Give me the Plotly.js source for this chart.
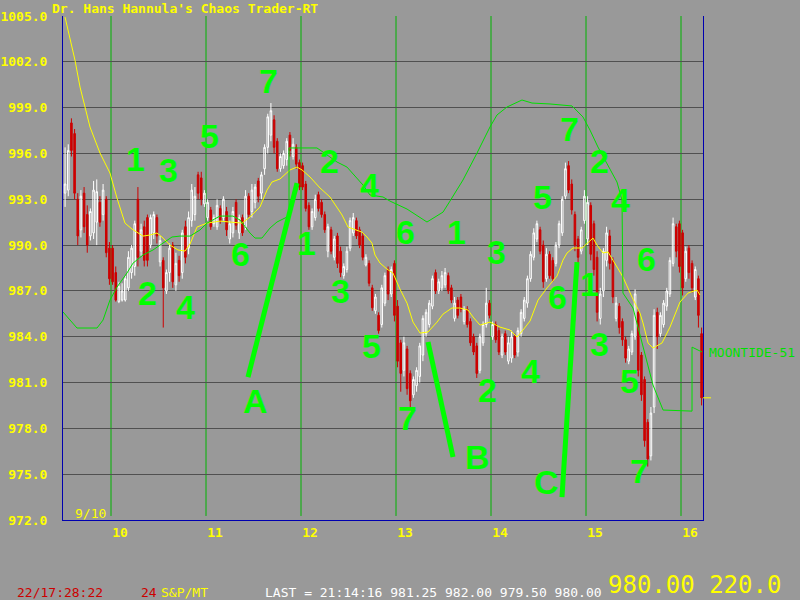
<!DOCTYPE html>
<html><head><meta charset="utf-8">
<script src="https://cdn.plot.ly/plotly-3.0.1.min.js"></script>
<style>html,body{margin:0;padding:0;background:#999999;}#chart{width:800px;height:600px;}</style>
</head><body><div id="chart"></div>
<script>
// ---- time structure: session start (day units) and bars per session ----
const sessionStart = [9.5, 10, 11, 12, 13, 14, 15, 16];
const sessionBars  = [15, 30, 30, 30, 30, 30, 30, 7];
const barsPerDay = 30;

// ---- price bars (open/high/low/close) ----
const openP = [
 993.4,993.6,998.0,997.3,993.0,991.0,993.4,992.0,990.6,990.8,991.5,992.8,992.0,993.0,989.8,
 989.8,988.2,986.3,986.4,986.4,987.2,988.2,988.6,993.0,989.6,991.2,991.8,990.0,990.8,991.8,988.9,989.0,987.0,988.2,990.0,987.4,989.0,988.2,991.2,989.8,991.6,992.0,994.6,994.4,992.7,
 991.8,992.3,991.4,991.2,992.4,991.8,992.2,990.4,990.8,992.8,990.8,991.8,991.2,993.2,992.2,992.8,994.2,993.4,995.0,996.4,997.2,998.2,996.8,995.0,995.2,995.6,997.2,995.8,996.4,995.4,
 995.2,994.0,992.6,991.2,991.8,993.3,992.8,992.0,989.6,991.0,989.2,990.6,989.6,988.0,988.4,989.8,990.8,991.6,991.0,990.6,988.7,988.8,987.2,985.7,985.4,984.8,986.2,988.4,986.8,988.8,
 986.0,983.6,981.8,983.2,981.6,980.2,980.8,981.4,982.8,984.2,984.8,986.0,988.2,987.0,987.2,987.4,988.0,987.2,985.2,986.4,986.6,985.0,985.8,985.0,984.0,983.4,981.8,983.6,984.8,986.2,
 984.0,984.8,984.4,982.8,984.2,982.4,982.6,984.0,983.0,984.2,985.2,986.2,987.8,989.2,990.4,991.0,990.0,987.8,989.4,989.0,988.8,990.0,990.8,993.2,995.2,994.0,992.0,990.4,989.6,991.6,
 990.4,992.6,991.4,989.2,985.2,987.0,989.0,990.6,989.0,985.2,986.0,985.0,983.8,982.4,983.0,984.0,985.6,982.8,981.2,978.4,976.2,979.4,985.6,984.2,984.8,986.0,986.8,988.8,991.2,991.4,
 990.8,987.8,989.8,988.8,986.6,987.8,984.2];
const highP = [
 996.4,996.6,998.3,997.6,993.4,993.6,993.8,992.6,992.4,994.2,994.3,993.2,994.0,993.2,990.2,
 990.0,988.6,987.6,987.5,988.0,989.6,990.0,991.6,993.8,991.4,991.6,992.0,992.0,992.2,992.0,990.6,989.2,988.4,990.1,990.2,989.5,989.3,991.0,991.6,992.2,994.0,993.8,994.8,994.8,993.6,
 993.0,992.5,992.0,993.0,992.6,993.2,992.5,991.6,992.5,993.0,992.0,992.0,993.6,993.4,994.0,994.0,994.4,994.8,996.6,998.6,999.3,998.5,997.0,996.0,996.2,997.0,997.4,997.0,996.6,995.6,
 995.4,994.2,992.8,992.4,993.3,993.5,993.0,992.2,991.4,991.2,990.6,990.8,989.9,988.8,989.9,991.8,992.1,991.8,991.2,990.8,989.4,989.0,987.4,986.8,985.6,987.4,988.2,988.6,988.6,989.0,
 986.4,983.8,984.0,983.4,981.8,981.4,982.0,983.6,985.4,985.8,986.4,988.0,988.4,987.8,988.3,988.5,988.2,987.4,986.6,986.6,986.8,986.0,986.0,985.2,984.2,983.6,984.2,985.0,987.2,986.4,
 985.0,985.0,984.6,984.2,984.4,984.0,984.4,984.2,984.6,985.8,986.6,988.0,989.6,991.1,991.6,991.2,990.3,989.8,989.6,989.2,990.2,991.6,993.2,995.4,995.5,994.3,992.2,990.6,991.2,993.6,
 993.2,992.8,991.6,989.6,987.2,989.8,991.2,991.0,989.2,986.6,986.2,985.2,984.0,983.4,984.4,987.1,985.8,983.0,981.4,978.6,979.4,985.8,985.9,985.6,986.4,987.2,989.2,991.8,991.4,991.6,
 991.0,989.9,990.0,989.0,988.6,988.0,984.6];
const lowP = [
 992.5,993.2,995.8,993.0,990.0,990.5,990.8,989.5,990.3,990.4,990.0,991.2,991.6,989.2,987.4,
 987.4,986.3,986.2,986.3,986.3,987.0,987.8,988.0,988.6,989.3,988.6,988.6,989.8,990.4,990.1,988.6,984.6,986.8,987.6,987.2,987.0,987.6,987.8,988.8,989.4,991.2,991.6,993.0,992.6,992.5,
 991.6,991.0,991.2,991.0,991.4,991.6,990.6,990.1,990.5,991.0,990.4,990.6,991.0,991.8,991.8,992.4,992.8,993.0,994.6,996.0,996.8,996.0,994.8,994.8,995.0,995.2,995.8,995.6,995.0,993.6,
 993.6,992.2,991.0,991.0,991.6,992.2,991.8,990.8,989.2,989.4,989.0,988.5,987.9,987.8,988.2,989.6,990.6,990.4,989.8,989.0,988.6,987.3,985.7,985.5,984.2,984.6,986.0,986.4,986.6,985.0,
 982.0,980.4,981.4,980.2,979.4,980.0,980.4,981.0,982.4,984.0,984.6,985.8,986.8,986.8,987.0,987.2,986.8,986.2,985.0,985.2,985.6,984.8,984.6,983.4,982.8,981.3,981.6,983.4,984.6,985.2,
 983.8,983.6,982.8,982.6,982.8,982.2,982.3,982.6,982.7,984.0,985.0,985.9,987.6,989.0,990.2,989.4,987.2,987.6,987.8,987.6,988.6,989.8,990.6,993.0,993.4,992.0,989.6,988.8,989.4,991.4,
 990.0,989.0,988.0,985.0,984.8,986.6,988.6,988.4,986.2,985.0,984.2,983.4,982.3,982.2,982.8,983.8,981.4,979.8,976.8,975.5,975.9,979.0,983.2,984.0,984.6,985.7,986.6,988.6,989.2,988.2,
 986.7,987.6,987.8,986.9,986.4,984.6,979.5];
const closeP = [
 994.0,996.2,996.2,993.4,990.6,993.2,991.2,990.0,992.2,993.6,993.5,991.5,993.6,989.5,987.8,
 987.6,986.4,987.3,987.0,987.8,989.2,989.8,991.4,989.2,991.0,989.0,989.0,991.8,992.0,990.6,990.3,987.2,988.2,989.8,987.6,988.8,988.0,990.8,989.2,991.8,993.6,993.2,993.4,993.0,993.4,
 992.8,991.2,991.8,992.6,991.6,993.0,991.0,991.4,992.2,991.3,991.8,990.8,993.2,992.0,993.6,993.8,993.2,994.6,996.4,998.4,998.8,996.4,995.0,995.8,996.0,996.8,996.2,996.6,995.3,993.8,
 993.8,992.4,991.2,992.2,993.0,992.4,992.0,991.0,991.2,989.6,990.4,988.8,988.2,988.6,989.6,991.6,991.8,990.6,990.0,989.2,989.2,987.5,985.9,986.6,984.4,987.2,988.0,986.8,988.4,985.4,
 982.4,981.6,983.6,980.6,979.8,981.2,981.8,983.4,985.2,985.6,986.2,987.8,987.0,987.6,988.0,988.2,987.0,986.4,986.2,985.4,985.8,985.8,984.8,983.6,983.0,981.6,984.0,984.8,986.2,985.4,
 984.8,983.8,983.0,984.0,983.0,983.6,984.0,982.8,984.4,985.6,986.4,987.8,989.4,990.8,991.4,989.6,987.6,989.4,988.0,987.8,990.0,991.4,993.0,995.0,993.6,992.3,990.0,989.2,991.0,993.2,
 992.8,989.4,988.4,985.6,986.8,989.6,990.8,988.8,986.6,986.2,984.6,983.8,982.6,983.2,984.2,986.8,981.8,980.2,977.2,976.0,979.0,985.4,984.0,985.4,986.2,987.0,989.0,991.4,989.6,988.6,
 987.2,989.6,988.2,987.2,988.4,985.4,980.0];

// ---- yellow moving average (time in days, price) ----
const maTime = [9.516,9.621,9.674,9.779,9.884,9.989,10.063,10.147,10.221,10.337,10.411,10.484,10.537,10.621,10.705,10.779,10.832,10.905,11.011,11.147,11.253,11.379,11.463,11.568,11.642,11.695,11.779,11.884,11.958,12.011,12.095,12.2,12.305,12.379,12.432,12.495,12.589,12.642,12.695,12.747,12.779,12.832,12.905,12.968,13.042,13.116,13.179,13.253,13.337,13.432,13.495,13.589,13.674,13.758,13.811,13.884,13.989,14.095,14.2,14.274,14.337,14.411,14.495,14.589,14.695,14.758,14.8,14.863,14.958,15.021,15.074,15.116,15.179,15.232,15.284,15.389,15.484,15.568,15.6,15.653,15.705,15.8,15.884,15.989,16.074,16.168,16.2];
const maValue = [1004.93,1002.1,1000.35,997.73,996.03,994.72,993.08,991.44,991.05,990.59,990.66,990.79,990.53,990.0,989.68,989.61,990.07,991.18,991.44,991.57,991.51,991.44,991.84,992.49,993.6,994.13,994.33,994.92,995.11,994.92,994.46,993.74,993.15,992.49,991.97,991.18,990.99,990.85,990.53,990.13,989.35,988.82,988.43,988.17,987.12,986.2,984.96,984.24,984.31,984.96,985.48,985.88,985.88,985.75,985.29,984.76,984.96,984.63,984.44,983.98,984.44,985.03,986.4,987.19,987.97,989.02,989.48,989.81,989.81,990.2,990.46,990.0,989.48,989.55,989.02,987.91,986.6,985.55,984.9,983.59,983.26,983.59,984.63,986.27,986.86,987.06,986.73];

// ---- green moontide forecast line ----
const tideTime = [9.495,9.642,9.853,9.916,9.989,10.063,10.168,10.232,10.337,10.442,10.547,10.642,10.726,10.832,10.937,11.011,11.147,11.284,11.358,11.463,11.516,11.589,11.674,11.747,11.853,11.874,11.874,12.168,12.232,12.379,12.484,12.589,12.653,12.726,12.863,12.937,13.116,13.326,13.495,13.568,13.642,13.705,13.853,13.989,14.063,14.168,14.326,14.432,14.621,14.853,14.968,15.042,15.126,15.221,15.326,15.379,15.389,15.495,15.6,15.705,15.811,16.116,16.116,16.221];
const tideValue = [985.62,984.57,984.57,985.09,986.4,987.25,988.17,988.82,989.35,989.68,990.13,990.53,990.59,990.59,990.99,991.44,991.9,991.9,991.64,990.79,990.46,990.46,991.12,991.51,991.84,992.1,996.36,996.36,996.09,995.44,995.11,994.39,993.93,993.28,993.15,992.88,992.36,991.51,992.16,992.88,993.6,994.26,996.03,997.73,998.52,999.04,999.5,999.3,999.24,999.11,998.39,997.53,996.42,995.37,994.13,992.95,986.86,985.88,983.45,980.84,979.2,979.13,983.32,983.0];

// ---- wave count labels ----
const waveText = ['1','3','5','7','2','4','6','1','2','3','4','5','6','7','1','3','2','4','5','7','6','2','4','1','3','6','5','7','A','B','C'];
const waveDay  = [10.253,10.6,11.032,11.663,10.379,10.789,11.358,12.063,12.305,12.411,12.716,12.747,13.095,13.116,13.642,14.063,13.958,14.411,14.537,14.821,14.705,15.147,15.358,15.042,15.147,15.632,15.453,15.568,11.516,13.863,14.579];
const wavePrice= [995.64,994.91,997.14,1000.74,986.86,985.94,989.41,990.13,995.5,986.99,993.93,983.39,990.85,978.67,990.85,989.54,980.51,981.75,993.15,997.6,986.6,995.5,992.95,987.45,983.52,989.09,981.1,975.2,979.79,976.12,974.48];

// ---- A, B, C pointer lines (start day, start price, end day, end price) ----
const pointerDay0 = [11.442, 13.337, 14.747];
const pointerP0   = [981.36, 983.65, 973.5];
const pointerDay1 = [11.958, 13.6, 14.905];
const pointerP1   = [994.06, 976.12, 988.89];

// ---- axes ----
const dayLines = [10, 11, 12, 13, 14, 15, 16];
const dayLabels = ['10','11','12','13','14','15','16'];
const yMin = 972, yMax = 1005, yStep = 3;

// ---- texts ----
const titleText = "Dr. Hans Hannula's Chaos Trader-RT";
const startDate = '9/10';
const tideName = 'MOONTIDE-51';
const clockText = '22/17:28:22';
const chartNo = '24';
const symbolText = 'S&amp;P/MT';
const lastTime = '21:14:16';
const lastOHLC = [981.25, 982.00, 979.50, 980.00];
const volumeVal = 220.0;

// ---- build ----
const barX = [];
sessionStart.forEach((s, i) => { for (let k = 0; k < sessionBars[i]; k++) barX.push(s + (k + 0.5) / barsPerDay); });

const PL = 63, PT = 16, PW = 640, PH = 504;
const px = v => (v - PL) / PW;
const py = v => (PT + PH - v) / PH;
const mono = 'DejaVu Sans Mono';

const traces = [
  {type:'candlestick', x:barX, open:openP, high:highP, low:lowP, close:closeP,
   whiskerwidth:0,
   increasing:{line:{color:'#ffffff', width:1}, fillcolor:'rgba(0,0,0,0)'},
   decreasing:{line:{color:'#cc0000', width:1}, fillcolor:'#cc0000'},
   hoverinfo:'skip', showlegend:false},
  {type:'scatter', mode:'lines', x:maTime, y:maValue, line:{color:'#ffff00', width:1}, hoverinfo:'skip', showlegend:false},
  {type:'scatter', mode:'lines', x:tideTime, y:tideValue, line:{color:'#00e000', width:1}, hoverinfo:'skip', showlegend:false}
];

const shapes = [];
dayLines.forEach(d => shapes.push({type:'line', xref:'x', yref:'paper', x0:d, x1:d, y0:0.008, y1:1, layer:'between', line:{color:'#00b400', width:1}}));
pointerDay0.forEach((d, i) => shapes.push({type:'line', xref:'x', yref:'y', x0:d, y0:pointerP0[i], x1:pointerDay1[i], y1:pointerP1[i], layer:'above', line:{color:'#00ff00', width:5}}));
shapes.push({type:'line', xref:'paper', yref:'y', x0:1, x1:1.0125, y0:closeP[closeP.length-1], y1:closeP[closeP.length-1], line:{color:'#ffff00', width:1}});

const annotations = [];
waveText.forEach((t, i) => annotations.push({x:waveDay[i], y:wavePrice[i], xref:'x', yref:'y', text:t, showarrow:false,
  xanchor:'center', yanchor:'middle', font:{family:'Liberation Sans', size:34, color:'#00ff00', weight:'bold'}}));
const small = (c) => ({family:mono, size:13, color:c});
annotations.push({x:px(73), y:py(513), xref:'paper', yref:'paper', text:startDate, showarrow:false, xanchor:'left', yanchor:'middle', font:small('#ffff00')});
annotations.push({x:px(707), y:tideValue[tideValue.length-1], xref:'paper', yref:'y', text:tideName, showarrow:false, xanchor:'left', yanchor:'middle', font:small('#00e000')});
annotations.push({x:px(15), y:py(592), xref:'paper', yref:'paper', text:clockText, showarrow:false, xanchor:'left', yanchor:'middle', font:small('#cc0000')});
annotations.push({x:px(139), y:py(592), xref:'paper', yref:'paper', text:chartNo, showarrow:false, xanchor:'left', yanchor:'middle', font:small('#cc0000')});
annotations.push({x:px(159), y:py(592), xref:'paper', yref:'paper', text:symbolText, showarrow:false, xanchor:'left', yanchor:'middle', font:small('#ffff00')});
annotations.push({x:px(263), y:py(592), xref:'paper', yref:'paper', text:'LAST = ' + lastTime + ' ' + lastOHLC.map(v => v.toFixed(2)).join(' '), showarrow:false, xanchor:'left', yanchor:'middle', font:small('#ffffff')});
annotations.push({x:px(606), y:py(585), xref:'paper', yref:'paper', text:lastOHLC[3].toFixed(2) + ' ' + volumeVal.toFixed(1), showarrow:false, xanchor:'left', yanchor:'middle', font:{family:mono, size:24, color:'#ffff00'}});

const layout = {
  width:800, height:600,
  margin:{l:PL, r:800-PL-PW, t:PT, b:600-PT-PH, pad:0},
  paper_bgcolor:'#999999', plot_bgcolor:'#999999',
  showlegend:false, hovermode:false, dragmode:false,
  title:{text:titleText, xref:'container', yref:'container', x:52/800, xanchor:'left', y:1-8/600, yanchor:'middle',
         font:{family:mono, size:13, color:'#ffff00', weight:'bold'}},
  xaxis:{range:[10 + (PL - 111)/95, 10 + (PL + PW - 111)/95], tickmode:'array',
         tickvals:dayLines.map(d => d + 0.095), ticktext:dayLabels, ticks:'', showgrid:false, zeroline:false,
         showline:true, linecolor:'#0000b0', linewidth:1, rangeslider:{visible:false}, fixedrange:true,
         tickfont:{family:mono, size:13, color:'#ffff00', weight:'bold'}, ticklabelstandoff:0},
  yaxis:{range:[yMin, yMax], tick0:yMin, dtick:yStep, tickformat:'.1f', ticks:'', showgrid:true, gridcolor:'#505050', gridwidth:1,
         zeroline:false, showline:true, mirror:true, linecolor:'#0000b0', linewidth:1, fixedrange:true,
         tickfont:{family:mono, size:13, color:'#ffff00', weight:'bold'}, ticklabelstandoff:12},
  shapes:shapes, annotations:annotations
};

Plotly.newPlot('chart', traces, layout, {staticPlot:true, displayModeBar:false});
</script>
</body></html>
